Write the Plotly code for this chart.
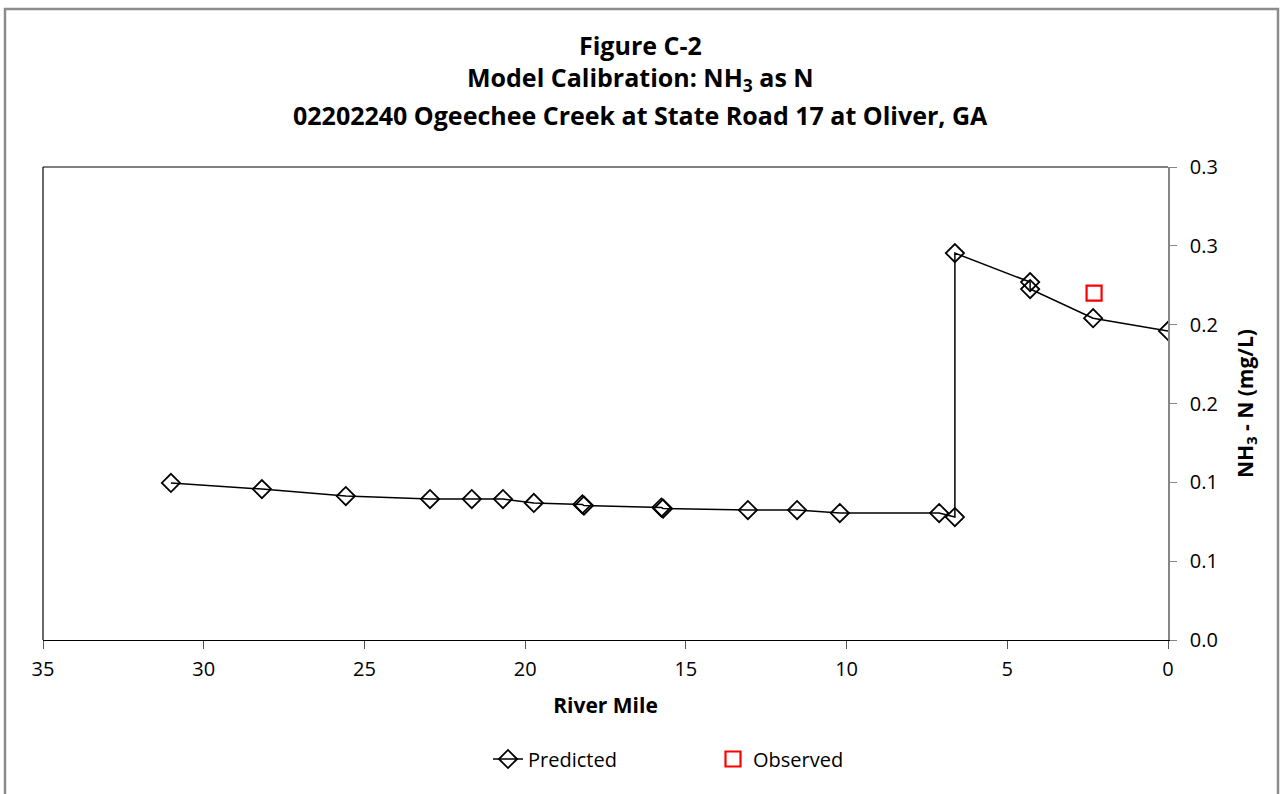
import plotly.graph_objects as go

# ---- data ----
pred_mile = [31.02, 28.19, 25.58, 22.96, 21.66, 20.69, 19.73, 18.22, 18.17,
             15.76, 15.71, 13.07, 11.54, 10.21, 7.12, 6.63, 6.63, 4.29, 4.29,
             2.33, 0.0]
pred_val = [0.0996, 0.0957, 0.0913, 0.0894, 0.0894, 0.0894, 0.0869, 0.0860,
            0.0853, 0.0840, 0.0834, 0.0824, 0.0824, 0.0805, 0.0805, 0.0780,
            0.2454, 0.2270, 0.2226, 0.2041, 0.1960]
obs_mile = [2.30]
obs_val = [0.2200]

y_tickvals = [0.0, 0.05, 0.10, 0.15, 0.20, 0.25, 0.30]
y_ticktext = ["0.0", "0.1", "0.1", "0.2", "0.2", "0.3", "0.3"]
x_tickvals = [35, 30, 25, 20, 15, 10, 5, 0]

title_lines = ["Figure C-2",
               "Model Calibration: NH<sub>3</sub> as N",
               "02202240 Ogeechee Creek at State Road 17 at Oliver, GA"]

FONT = "'Open Sans', 'Noto Sans', sans-serif"

W, H = 1281, 794
L, R, T, B = 43, 1168, 167, 640   # plot area in page pixels


def px_x(p):
    return (p - L) / (R - L)


def px_y(p):
    return (B - p) / (B - T)


fig = go.Figure()
fig.add_trace(go.Scatter(
    x=pred_mile, y=pred_val, mode="lines+markers", name="Predicted",
    line=dict(color="black", width=1.5),
    marker=dict(symbol="diamond-open", size=14, color="black",
                line=dict(color="black", width=1.8)),
))
fig.add_trace(go.Scatter(
    x=obs_mile, y=obs_val, mode="markers", name="Observed",
    marker=dict(symbol="square-open", size=15, color="#FF0000",
                line=dict(color="#FF0000", width=2.2)),
))

title_pos = [(640, 45), (640, 79), (640, 115)]
for txt, (cx, cy) in zip(title_lines, title_pos):
    fig.add_annotation(text="<b>" + txt + "</b>", x=px_x(cx), y=px_y(cy),
                       xref="paper", yref="paper", showarrow=False,
                       xanchor="center", yanchor="middle",
                       font=dict(family=FONT, size=25, color="black"))

# outer chart border
fig.add_shape(type="rect", xref="paper", yref="paper",
              x0=px_x(5), x1=px_x(1278), y0=px_y(9), y1=px_y(800),
              line=dict(color="#8c8c8c", width=2.5), fillcolor="rgba(0,0,0,0)")
# plot area frame (top and left)
fig.add_shape(type="line", xref="paper", yref="paper", x0=0, x1=1, y0=1, y1=1,
              line=dict(color="black", width=1.2))
fig.add_shape(type="line", xref="paper", yref="paper", x0=0, x1=0, y0=0, y1=1,
              line=dict(color="black", width=1.2))

fig.update_layout(
    width=W, height=H,
    margin=dict(l=L, r=W - R, t=T, b=H - B),
    paper_bgcolor="white", plot_bgcolor="white",
    font=dict(family=FONT, size=20, color="black"),
    showlegend=True,
    legend=dict(orientation="h", x=px_x(488), y=px_y(759), xanchor="left",
                yanchor="middle", entrywidth=180, entrywidthmode="pixels",
                font=dict(family=FONT, size=20, color="black"),
                bgcolor="rgba(0,0,0,0)"),
    xaxis=dict(range=[35, 0], tickvals=x_tickvals, showgrid=False,
               zeroline=False, showline=True, linecolor="black", linewidth=1.2,
               ticks="outside", ticklen=8, tickcolor="#555", mirror=False,
               ticklabelstandoff=3,
               tickfont=dict(family=FONT, size=20, color="black"),
               title=dict(text="<b>River Mile</b>", standoff=17,
                          font=dict(family=FONT, size=21, color="black"))),
    yaxis=dict(range=[0, 0.3], side="right", tickvals=y_tickvals,
               ticktext=y_ticktext, showgrid=False, zeroline=False,
               showline=True, linecolor="#868686", linewidth=1.5,
               ticks="outside", ticklen=7, tickcolor="#868686",
               ticklabelstandoff=9,
               tickfont=dict(family=FONT, size=20, color="black"),
               title=dict(text="<b>NH<sub>3</sub> - N (mg/L)</b>", standoff=21,
                          font=dict(family=FONT, size=21, color="black"))),
)

fig.write_html(
    "out.html",
    config={"displayModeBar": False},
    post_script="document.body.style.margin='0';document.body.style.overflow='hidden';",
)
